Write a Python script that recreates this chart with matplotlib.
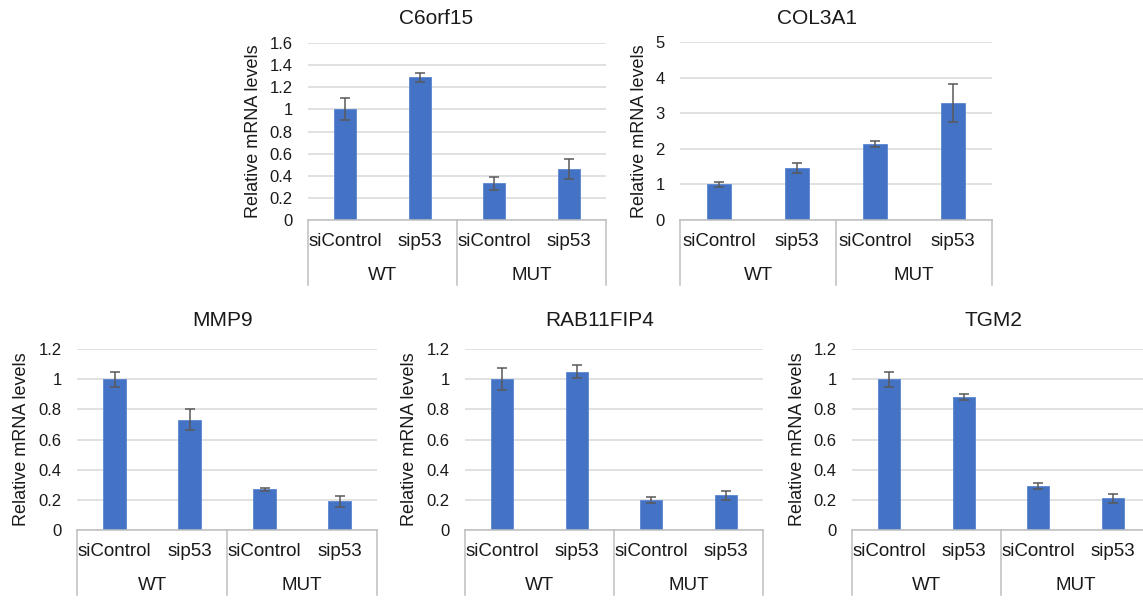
import matplotlib
matplotlib.use('Agg')
import matplotlib.pyplot as plt
import numpy as np

plt.rcParams['font.family'] = ['Liberation Sans', 'DejaVu Sans']

# conditions on the x axis, two levels
conditions = ['siControl', 'sip53', 'siControl', 'sip53']
groups = ['WT', 'MUT']

# relative mRNA levels (mean, error)
c6orf15_mean = [1.00, 1.29, 0.33, 0.46]
c6orf15_err = [0.10, 0.04, 0.06, 0.09]
col3a1_mean = [1.00, 1.46, 2.14, 3.29]
col3a1_err = [0.06, 0.14, 0.08, 0.54]
mmp9_mean = [1.00, 0.73, 0.27, 0.19]
mmp9_err = [0.05, 0.07, 0.01, 0.035]
rab11fip4_mean = [1.00, 1.05, 0.20, 0.23]
rab11fip4_err = [0.075, 0.045, 0.02, 0.03]
tgm2_mean = [1.00, 0.88, 0.29, 0.21]
tgm2_err = [0.05, 0.02, 0.02, 0.03]

W, H = 1143, 600
BAR = '#4472C4'
GRID = '#d9d9d9'
AXLINE = '#bfbfbf'
TXT = '#1a1a1a'

# panel layout in pixels: left, right, top, bottom, ymax, ystep, title x, title y, ylabel x
panels = [
    ('C6orf15', c6orf15_mean, c6orf15_err, (308, 606, 43, 220), 1.6, 0.2, 436, 18, 253),
    ('COL3A1', col3a1_mean, col3a1_err, (680, 992, 42, 220), 5, 1, 817, 18, 639),
    ('MMP9', mmp9_mean, mmp9_err, (77, 377, 349, 530), 1.2, 0.2, 223, 320, 22),
    ('RAB11FIP4', rab11fip4_mean, rab11fip4_err, (465, 763, 349, 530), 1.2, 0.2, 600, 320, 410),
    ('TGM2', tgm2_mean, tgm2_err, (852, 1150, 349, 530), 1.2, 0.2, 993, 320, 797),
]

fig = plt.figure(figsize=(W / 100, H / 100), dpi=100)
PT = 0.72  # points per pixel at dpi 100

for name, mean, err, (l, r, t, b), ymax, ystep, tx, ty, ylx in panels:
    ax = fig.add_axes([l / W, 1 - b / H, (r - l) / W, (b - t) / H])
    x = np.arange(len(conditions))
    ax.bar(x, mean, width=0.3, color=BAR, edgecolor='#5b86d1', linewidth=0.6, zorder=3)
    ax.errorbar(x, mean, yerr=err, fmt='none', ecolor='#595959', elinewidth=1.1,
                capsize=3.5, capthick=1.1, zorder=4)
    ax.set_xlim(-0.5, 3.5)
    ax.set_ylim(0, ymax)
    ticks = np.round(np.arange(0, ymax + ystep / 2, ystep), 2)
    ax.set_yticks(ticks)
    ax.set_yticklabels([f'{v:g}' for v in ticks], fontsize=12, color=TXT)
    ax.tick_params(axis='y', length=0, pad=11)
    ax.set_xticks([])
    ax.yaxis.grid(True, color=GRID, linewidth=1.1, zorder=0)
    ax.set_axisbelow(True)
    for s in ['top', 'right', 'left']:
        ax.spines[s].set_visible(False)
    ax.spines['bottom'].set_color(AXLINE)
    ax.spines['bottom'].set_linewidth(1.1)
    ax.spines['bottom'].set_zorder(5)

    hpx = b - t
    trans = ax.get_xaxis_transform()
    # two-level category labels
    for i, c in enumerate(conditions):
        ax.annotate(c, xy=(i, 0), xycoords=trans, xytext=(0, -22 * PT),
                    textcoords='offset points', ha='center', va='center',
                    fontsize=13.5, color=TXT)
    for j, g in enumerate(groups):
        ax.annotate(g, xy=(2 * j + 0.5, 0), xycoords=trans, xytext=(0, -55 * PT),
                    textcoords='offset points', ha='center', va='center',
                    fontsize=13.5, color=TXT)
    for xs in [-0.5, 1.5, 3.5]:
        ax.plot([xs, xs], [0, -65 / hpx], transform=trans, color=AXLINE,
                linewidth=1.1, clip_on=False)

    fig.text(tx / W, 1 - ty / H, name, ha='center', va='center', fontsize=15, color=TXT)
    fig.text(ylx / W, 1 - (t + b) / 2 / H, 'Relative mRNA levels', rotation=90,
             ha='center', va='center', fontsize=13, color=TXT)

fig.savefig('out.png', dpi=100, facecolor='white')
